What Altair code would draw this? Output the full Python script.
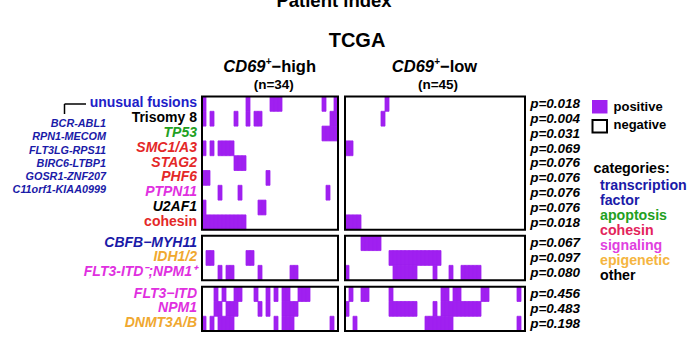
import altair as alt
import pandas as pd

# ---------------- data ----------------
N_HIGH = 34
N_LOW = 45

rows_top = ["unusual fusions", "Trisomy 8", "TP53", "SMC1/A3", "STAG2", "PHF6", "PTPN11", "U2AF1", "cohesin"]
rows_mid = ["CBFB−MYH11", "IDH1/2", "FLT3-ITD⁻;NPM1⁺"]
rows_bot = ["FLT3−ITD", "NPM1", "DNMT3A/B"]

pvals_top = ["0.018", "0.004", "0.031", "0.069", "0.076", "0.076", "0.076", "0.076", "0.018"]
pvals_mid = ["0.067", "0.097", "0.080"]
pvals_bot = ["0.456", "0.483", "0.198"]

# positive patients (patient index within each group)
high_pos = {
    "unusual fusions": [0, 11, 17, 18, 19, 30, 33],
    "Trisomy 8": [0, 2, 8, 11, 13, 14, 32, 33],
    "TP53": [30, 31, 32, 33],
    "SMC1/A3": [0, 2, 4, 5, 6, 7],
    "STAG2": [8, 9, 10],
    "PHF6": [0, 1, 16],
    "PTPN11": [4, 9, 31],
    "U2AF1": [0, 14, 15],
    "cohesin": [0, 1, 2, 3, 4, 5, 6, 7, 8, 9, 10],
    "CBFB−MYH11": [],
    "IDH1/2": [1, 2, 11, 12],
    "FLT3-ITD⁻;NPM1⁺": [4, 6, 7, 14, 22, 23],
    "FLT3−ITD": [3, 5, 8, 9, 13, 16, 18, 20, 21, 24, 25, 26],
    "NPM1": [3, 4, 6, 7, 8, 14, 16, 20, 21, 22, 23],
    "DNMT3A/B": [0, 2, 4, 5, 6, 7, 18, 20, 21, 22, 32],
}
low_pos = {
    "unusual fusions": [10],
    "Trisomy 8": [9],
    "TP53": [],
    "SMC1/A3": [0, 1],
    "STAG2": [],
    "PHF6": [],
    "PTPN11": [],
    "U2AF1": [],
    "cohesin": [0, 1, 2, 3],
    "CBFB−MYH11": [4, 5, 6, 7, 8],
    "IDH1/2": [11, 12, 13, 14, 15, 16, 17, 18, 19, 20, 21, 22, 23],
    "FLT3-ITD⁻;NPM1⁺": [0, 12, 13, 14, 15, 16, 17, 22, 26, 29, 30, 31, 32, 33],
    "FLT3−ITD": [1, 4, 5, 11, 24, 25, 27, 28, 34, 35, 43],
    "NPM1": [0, 11, 12, 13, 14, 15, 16, 17, 22, 24, 25, 26, 27, 28, 29, 30, 31, 32, 33],
    "DNMT3A/B": [2, 20, 21, 22, 23, 24, 25, 26, 43],
}

fusion_list = ["BCR-ABL1", "RPN1-MECOM", "FLT3LG-RPS11", "BIRC6-LTBP1", "GOSR1-ZNF207", "C11orf1-KIAA0999"]
categories = ["transcription", "factor", "apoptosis", "cohesin", "signaling", "epigenetic", "other"]

# ---------------- styles ----------------
FONT = "Liberation Sans"
PURPLE = "#a020f0"
BLUE = "#2020c8"
NAVY = "#1a1aa8"
GREEN = "#22a022"
RED = "#e42828"
MAGENTA = "#e030e0"
ORANGE = "#f0a830"

row_style = {
    "unusual fusions": (BLUE, False),
    "Trisomy 8": ("black", False),
    "TP53": (GREEN, True),
    "SMC1/A3": (RED, True),
    "STAG2": (RED, True),
    "PHF6": (RED, True),
    "PTPN11": (MAGENTA, True),
    "U2AF1": ("black", True),
    "cohesin": (RED, False),
    "CBFB−MYH11": (NAVY, True),
    "IDH1/2": (ORANGE, True),
    "FLT3-ITD⁻;NPM1⁺": (MAGENTA, True),
    "FLT3−ITD": (MAGENTA, True),
    "NPM1": (MAGENTA, True),
    "DNMT3A/B": (ORANGE, True),
}
cat_colors = [NAVY, NAVY, GREEN, "#e3245c", "#e040e0", "#f5b540", "black"]

# ---------------- layout (scale units) ----------------
W, H = 696, 344
PX0, CELL_W = 202.0, 4.0       # left panel start (px), px per patient
PY0, ROW_H = 96.5, 14.8        # first row top (px), px per row
RIGHT_OFF = 35.75              # right panel offset in patient units
block_rows = [rows_top, rows_mid, rows_bot]
block_start = [0.0, 9.41, 12.85]
block_p = [pvals_top, pvals_mid, pvals_bot]

xs = alt.Scale(domain=[-PX0 / CELL_W, (W - PX0) / CELL_W], range=[0, W], nice=False, zero=False)
ys = alt.Scale(domain=[-PY0 / ROW_H, (H - PY0) / ROW_H], range=[0, H], nice=False, zero=False)

cells, frames, labels, pv = [], [], [], []
for rows, y0, pl in zip(block_rows, block_start, block_p):
    for off, n in [(0.0, N_HIGH), (RIGHT_OFF, N_LOW)]:
        frames.append(dict(x=off, x2=off + n, y=y0, y2=y0 + len(rows)))
    for i, r in enumerate(rows):
        y = y0 + i
        for p in high_pos[r]:
            cells.append(dict(x=p, x2=p + 1, y=y, y2=y + 1))
        for p in low_pos[r]:
            cells.append(dict(x=RIGHT_OFF + p, x2=RIGHT_OFF + p + 1, y=y, y2=y + 1))
        col, it = row_style[r]
        labels.append(dict(x=-1.25, y=y + 0.5, t=r, c=col, it=it))
        pv.append(dict(x=RIGHT_OFF + N_LOW + 1.3, y=y + 0.5, t="p=" + pl[i]))

cells = pd.DataFrame(cells)
frames = pd.DataFrame(frames)
labels = pd.DataFrame(labels)
pv = pd.DataFrame(pv)

X = lambda f: alt.X(f + ":Q", scale=xs, axis=None)
Y = lambda f: alt.Y(f + ":Q", scale=ys, axis=None)

cell_layer = alt.Chart(cells).mark_rect(color=PURPLE, stroke=PURPLE, strokeWidth=0.8).encode(
    x=X("x"), x2="x2", y=Y("y"), y2="y2")
frame_layer = alt.Chart(frames).mark_rect(fill="white", fillOpacity=0, stroke="black", strokeWidth=2).encode(
    x=X("x"), x2="x2", y=Y("y"), y2="y2")

lab_layers = []
for it in [True, False]:
    d = labels[labels.it == it]
    lab_layers.append(alt.Chart(d).mark_text(
        font=FONT, fontWeight="bold", fontStyle="italic" if it else "normal", fontSize=14,
        align="right", baseline="alphabetic", dy=3.5).encode(
        x=X("x"), y=Y("y"), text="t:N", color=alt.Color("c:N", scale=None)))

pv_layer = alt.Chart(pv).mark_text(
    font=FONT, fontWeight="bold", fontStyle="italic", fontSize=13.5,
    align="left", baseline="alphabetic", dy=4.3, color="black").encode(
    x=X("x"), y=Y("y"), text="t:N")

one = pd.DataFrame({"a": [0]})


def txt(s, x, y, size, color="black", italic=False, align="left"):
    return alt.Chart(one).mark_text(
        text=s, font=FONT, fontWeight="bold", fontStyle="italic" if italic else "normal",
        fontSize=size, color=color, align=align, baseline="alphabetic").encode(
        x=alt.value(x), y=alt.value(y))


ann = []
ann.append(txt("Patient index", 334, 7, 18.5, align="center"))
ann.append(txt("TCGA", 357, 46.7, 20, align="center"))
# group headers
ann.append(txt("CD69", 265.5, 71.7, 16.5, italic=True, align="right"))
ann.append(txt("+", 265.8, 64.5, 10, align="left"))
ann.append(txt("−high", 271.5, 71.7, 16.5, align="left"))
ann.append(txt("(n=" + str(N_HIGH) + ")", 273.7, 88.5, 13.5, align="center"))
ann.append(txt("CD69", 434, 71.7, 16.5, italic=True, align="right"))
ann.append(txt("+", 434.3, 64.5, 10, align="left"))
ann.append(txt("−low", 440, 71.7, 16.5, align="left"))
ann.append(txt("(n=" + str(N_LOW) + ")", 438, 88.5, 13.5, align="center"))
# fusion list
for i, f in enumerate(fusion_list):
    ann.append(txt(f, 106, 127.3 + 13.1 * i, 10.8, color=NAVY, italic=True, align="right"))
# bracket
ann.append(alt.Chart(one).mark_rule(color="black", strokeWidth=1.5).encode(
    x=alt.value(64.5), x2=alt.value(86), y=alt.value(104), y2=alt.value(104)))
ann.append(alt.Chart(one).mark_rule(color="black", strokeWidth=1.5).encode(
    x=alt.value(64.5), x2=alt.value(64.5), y=alt.value(104), y2=alt.value(114)))
# legend
ann.append(alt.Chart(one).mark_rect(color=PURPLE).encode(
    x=alt.value(592), x2=alt.value(607.5), y=alt.value(100), y2=alt.value(113.5)))
ann.append(txt("positive", 613.5, 110.7, 13))
ann.append(alt.Chart(one).mark_rect(fill="white", stroke="black", strokeWidth=2).encode(
    x=alt.value(592.5), x2=alt.value(607), y=alt.value(120), y2=alt.value(132.5)))
ann.append(txt("negative", 613.5, 129.3, 13))
ann.append(txt("categories:", 593.5, 173.3, 14.3))
for i, (c, col) in enumerate(zip(categories, cat_colors)):
    ann.append(txt(c, 600, 190.3 + 15 * i, 14.2, color=col))

chart = alt.layer(cell_layer, frame_layer, *lab_layers, pv_layer, *ann).properties(
    width=W, height=H, padding=0, autosize=alt.AutoSizeParams(type="none"),
    background="white").configure_view(stroke=None)

chart.save("out.html", embed_options={"renderer": "svg", "actions": False})
